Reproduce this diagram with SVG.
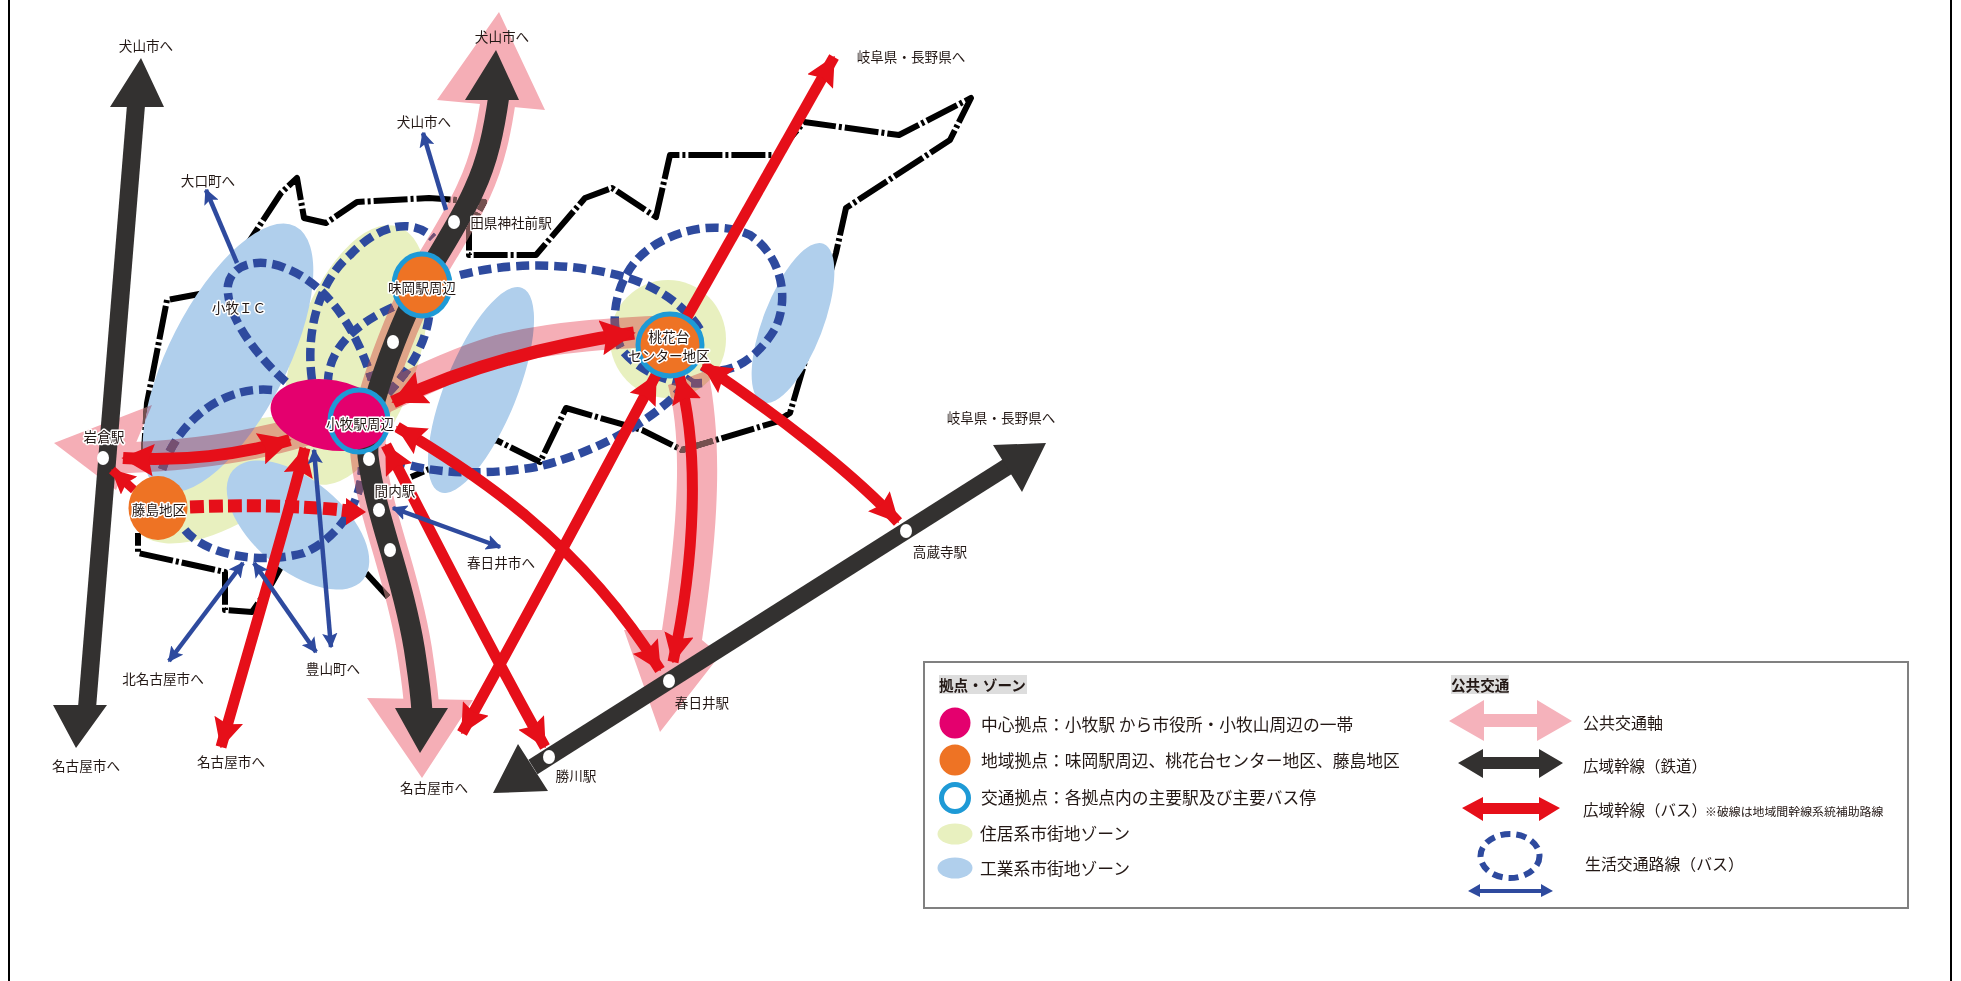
<svg xmlns="http://www.w3.org/2000/svg" width="1961" height="981" viewBox="0 0 1961 981">
<style>
text{font-family:"Noto Sans CJK JP","Noto Sans",sans-serif;font-size:13.6px;fill:#231815;text-anchor:middle;dominant-baseline:central}
.h{paint-order:stroke;stroke:#fff;stroke-width:3px;stroke-linejoin:round}
.l{font-size:16.75px;text-anchor:start}
.b{font-weight:700;font-size:14.6px;text-anchor:start}
.bd{fill:none;stroke:#000;stroke-width:6;stroke-dasharray:34 3 3 3;stroke-linejoin:round}
.dash{fill:none;stroke:#2e4a9e;stroke-width:8.5;stroke-dasharray:13 6}
.blue{fill:none;stroke:#2e4a9e;stroke-width:4.5}
.red{fill:none;stroke:#e60f19;stroke-width:11}
.reddash{fill:none;stroke:#e60f19;stroke-width:13;stroke-dasharray:14 5}
.rail{fill:none;stroke:#333130;stroke-width:21}
.y{fill:#e8f0bf}.lb{fill:#b0cfec}
.st{fill:#fff}
.ring{fill:none;stroke:#1e9ad6;stroke-width:5}
.or{fill:#ee7324}
.ax{fill:none;stroke-width:35}
#axisA{mix-blend-mode:multiply}
#axisB{mix-blend-mode:lighten}
</style>
<defs>
<marker id="rh" viewBox="0 0 10 10" refX="9.5" refY="5" markerWidth="2.7" markerHeight="2.7" orient="auto-start-reverse" markerUnits="strokeWidth"><path d="M0 0L10 5L0 10L1.5 5z" fill="#e60f19"/></marker>
<marker id="bh" viewBox="0 0 10 10" refX="9" refY="5" markerWidth="3.4" markerHeight="3.4" orient="auto-start-reverse" markerUnits="strokeWidth"><path d="M0 0L10 5L0 10L2 5z" fill="#2e4a9e"/></marker>
<g id="axisShape">
<path class="ax" d="M499 95C494 130 488 160 474 190C460 222 440 250 419 288C403 318 385 365 375 400C370 425 367 440 368 456C372 490 383 525 392 556C402 590 412 630 416 660C419 680 421 695 422 712"/>
<path d="M499 12L545 110L437 100zM422 778L367 698L473 700z" stroke="none"/>
<path class="ax" style="stroke-width:31" d="M120 458C180 456 240 450 300 432C360 415 430 370 500 350C560 335 620 333 685 330"/>
<path d="M54 443L152 405L116 490z" stroke="none"/>
<path d="M668 385C680 430 682 500 662 630L624 630L660 732L720 655L702 640C720 520 722 440 708 370z" stroke="none"/>
</g>
</defs>
<rect width="1961" height="981" fill="#fff"/>
<g id="frame"><path d="M9 0V981M1951 0V981" fill="none" stroke="#000" stroke-width="2"/></g>
<g id="boundary">
<path class="bd" d="M143 467L147 403L167 300L205 293L237 260L281 193L297 178L304 218L326 223L357 202L429 198L484 202L469 230L469 255L536 255L585 198L612 188L656 217L670 155L776 155L804 122L899 135L971 98L950 140L846 208L836 253L802 372L790 413L776 422L709 442L682 450L642 430L566 408L540 462L496 440L411 477"/>
<path class="bd" d="M366 573L388 597"/>
<path class="bd" d="M281 567L272 583L252 612L225 610L225 572L138 553L138 533"/>
</g>
<g id="zones">
<ellipse class="y" cx="356" cy="355" rx="62" ry="135" transform="rotate(18 356 355)"/>
<ellipse class="y" cx="225" cy="480" rx="100" ry="45" transform="rotate(-30 225 480)"/>
<ellipse class="y" cx="668" cy="339" rx="58" ry="59"/>
<ellipse class="lb" cx="228" cy="358" rx="59" ry="148" transform="rotate(27 228 358)"/>
<ellipse class="lb" cx="481" cy="390" rx="36" ry="110" transform="rotate(22 481 390)"/>
<ellipse class="lb" cx="298" cy="525" rx="85" ry="45" transform="rotate(40 298 525)"/>
<ellipse class="lb" cx="793" cy="323" rx="30" ry="85" transform="rotate(21 793 323)"/>
</g>
<g id="connectors">
<g id="local">
<path class="dash" d="M286 382C250 350 225 310 228 285C232 262 262 258 285 268C325 283 355 325 372 380"/>
<path class="dash" d="M312 380C305 330 320 280 350 255C375 228 410 215 433 238"/>
<path class="dash" d="M429 317C425 345 410 370 388 393"/>
<path class="dash" d="M393 307C360 322 330 345 328 380"/>
<path class="dash" d="M460 275C510 262 570 262 625 277C660 287 690 310 702 333"/>
<path class="dash" d="M702 367C730 380 760 355 776 327C790 295 780 255 750 235C715 218 660 232 635 262C612 290 610 330 622 350C640 372 670 385 702 383"/>
<path class="dash" d="M393 460C430 475 490 475 536 467C590 455 660 420 691 377"/>
<path class="dash" d="M272 390C220 385 175 425 161 473"/>
<path class="dash" d="M185 530C205 555 260 565 304 553C335 540 362 505 362 467"/>
</g>
<g id="axisA"><use href="#axisShape" fill="#f5aeb6" stroke="#f5aeb6"/></g>
<g id="axisB"><use href="#axisShape" fill="#75504f" stroke="#75504f"/></g>
<g id="rail">
<path class="rail" style="stroke-width:18" d="M136 105L87 708"/>
<path d="M141 58L164 107L110 107zM76 748L53 705L107 705z" fill="#333130"/>
<path class="rail" d="M499 95C494 130 488 160 474 190C460 222 440 250 419 288C403 318 385 365 375 400C370 425 367 440 368 456C372 490 383 525 392 556C402 590 412 630 416 660C419 680 421 695 422 712"/>
<path d="M496 50L519 100L465 100zM420 753L395 708L448 708z" fill="#333130"/>
<path class="rail" style="stroke-width:17" d="M1010 465L533 767"/>
<path d="M1046 443L993 445L1022 492zM493 793L518 744L548 791z" fill="#333130"/>
</g>
<g id="bus">
<path class="red" style="stroke-width:12" marker-start="url(#rh)" marker-end="url(#rh)" d="M123 458C180 462 240 455 290 440"/>
<path class="red" style="stroke-width:13" marker-start="url(#rh)" marker-end="url(#rh)" d="M393 402C470 365 550 345 634 333"/>
<path class="red" style="stroke-width:9" marker-start="url(#rh)" d="M112 470L134 490"/>
<path class="reddash" d="M190 507C240 505 300 505 350 511"/>
<path d="M366 512L346 498L346 525z" fill="#e60f19"/>
<path class="red" marker-start="url(#rh)" marker-end="url(#rh)" d="M305 448C290 510 260 610 221 747"/>
<path class="red" marker-start="url(#rh)" marker-end="url(#rh)" d="M386 445C420 510 490 650 545 747"/>
<path class="red" marker-start="url(#rh)" marker-end="url(#rh)" d="M397 427C470 470 580 540 660 670"/>
<path class="red" marker-start="url(#rh)" marker-end="url(#rh)" d="M656 375C610 460 520 630 462 733"/>
<path class="red" marker-start="url(#rh)" marker-end="url(#rh)" d="M679 375C700 450 695 560 673 662"/>
<path class="red" marker-start="url(#rh)" marker-end="url(#rh)" d="M703 365C770 410 850 470 898 522"/>
<path class="red" marker-end="url(#rh)" d="M687 317L834 57"/>
</g>
<g id="lifeline">
<path class="blue" marker-end="url(#bh)" d="M237 263L206 190"/>
<path class="blue" marker-end="url(#bh)" d="M446 210L423 133"/>
<path class="blue" marker-start="url(#bh)" marker-end="url(#bh)" d="M243 563L169 661"/>
<path class="blue" marker-start="url(#bh)" marker-end="url(#bh)" d="M254 563L316 652"/>
<path class="blue" marker-start="url(#bh)" marker-end="url(#bh)" d="M314 450L331 647"/>
<path class="blue" marker-start="url(#bh)" marker-end="url(#bh)" d="M393 508L500 547"/>
</g>
</g>
<g id="n-komaki"><ellipse cx="330" cy="415" rx="60" ry="35" transform="rotate(10 330 415)" fill="#e4006e"/><ellipse class="ring" cx="359" cy="421" rx="29" ry="31"/><text class="h" x="360" y="423">小牧駅周辺</text></g>
<g id="n-ajioka"><ellipse class="or" cx="422" cy="285" rx="28" ry="31"/><ellipse class="ring" cx="422" cy="285" rx="28" ry="31"/><text class="h" x="422" y="287">味岡駅周辺</text></g>
<g id="n-momo"><ellipse class="or" cx="670" cy="345" rx="32" ry="31"/><ellipse class="ring" cx="670" cy="345" rx="32" ry="31"/><text class="h" x="669" y="336">桃花台</text><text class="h" x="669" y="355">センター地区</text></g>
<g id="n-fuji"><ellipse class="or" cx="158" cy="508" rx="29.5" ry="32"/><text class="h" x="159" y="509">藤島地区</text></g>
<g id="stations">
<ellipse class="st" cx="103" cy="458" rx="6" ry="7"/><ellipse class="st" cx="454" cy="222" rx="6" ry="7"/><ellipse class="st" cx="393" cy="342" rx="6" ry="7"/><ellipse class="st" cx="369" cy="459" rx="6" ry="7"/><ellipse class="st" cx="379" cy="510" rx="6" ry="7"/><ellipse class="st" cx="390" cy="550" rx="6" ry="7"/><ellipse class="st" cx="906" cy="531" rx="6" ry="7"/><ellipse class="st" cx="669" cy="681" rx="6" ry="7"/><ellipse class="st" cx="549" cy="757" rx="6" ry="7"/>
</g>
<g id="labels">
<text x="146" y="45">犬山市へ</text><text x="502" y="36">犬山市へ</text><text x="424" y="121">犬山市へ</text><text x="208" y="180">大口町へ</text>
<text class="h" x="511" y="222">田県神社前駅</text><text class="h" x="239" y="307">小牧ＩＣ</text><text class="h" x="104" y="436">岩倉駅</text><text class="h" x="395" y="490">間内駅</text>
<text x="501" y="562">春日井市へ</text><text x="163" y="678">北名古屋市へ</text><text x="333" y="668">豊山町へ</text>
<text x="86" y="765">名古屋市へ</text><text x="231" y="761">名古屋市へ</text><text x="434" y="787">名古屋市へ</text>
<text x="576" y="775">勝川駅</text><text x="702" y="702">春日井駅</text><text x="940" y="551">高蔵寺駅</text>
<text x="911" y="56">岐阜県・長野県へ</text><text x="1001" y="417">岐阜県・長野県へ</text>
</g>
<g id="legend">
<rect x="924" y="662" width="984" height="246" fill="#fff" stroke="#808080" stroke-width="2"/>
<rect x="939" y="675" width="88" height="19" fill="#ddd"/><rect x="1451" y="675" width="58" height="19" fill="#ddd"/>
<text class="b" x="939" y="684">拠点・ゾーン</text><text class="b" x="1451" y="684">公共交通</text>
<ellipse cx="955" cy="723" rx="15.5" ry="15.5" fill="#e4006e"/><ellipse class="or" cx="955" cy="760" rx="15.5" ry="15.5"/><ellipse class="ring" cx="955" cy="798" rx="13.5" ry="13.5"/>
<ellipse class="y" cx="955" cy="834" rx="17.5" ry="10.5"/><ellipse class="lb" cx="955" cy="868" rx="17.5" ry="10.5"/>
<text class="l" x="981" y="724">中心拠点：小牧駅 から市役所・小牧山周辺の一帯</text>
<text class="l" x="981" y="760">地域拠点：味岡駅周辺、桃花台センター地区、藤島地区</text>
<text class="l" x="981" y="797">交通拠点：各拠点内の主要駅及び主要バス停</text>
<text class="l" x="980" y="833">住居系市街地ゾーン</text>
<text class="l" x="980" y="868">工業系市街地ゾーン</text>
<path d="M1449 721L1484 700V714H1537V700L1572 721L1537 741V727H1484V741z" fill="#f5b2bb"/>
<path d="M1458 763L1483 749V757H1539V749L1563 763L1539 778V769H1483V778z" fill="#333130"/>
<path d="M1462 808L1483 797V803H1539V797L1560 808L1539 821V814H1483V821z" fill="#e60f19"/>
<ellipse cx="1510" cy="856" rx="29.5" ry="22" fill="none" stroke="#2e4a9e" stroke-width="6" stroke-dasharray="10 6"/>
<path d="M1468 891L1480 884V889H1541V884L1553 891L1541 897V893H1480V897z" fill="#2e4a9e"/>
<text class="l" style="font-size:16px" x="1583" y="722">公共交通軸</text>
<text class="l" style="font-size:15.5px" x="1583" y="765">広域幹線（鉄道）</text>
<text class="l" style="font-size:15.5px" x="1583" y="809">広域幹線（バス）</text>
<text class="l" style="font-size:11.9px" x="1705" y="810">※破線は地域間幹線系統補助路線</text>
<text class="l" style="font-size:15.9px" x="1585" y="863">生活交通路線（バス）</text>
</g>
</svg>
